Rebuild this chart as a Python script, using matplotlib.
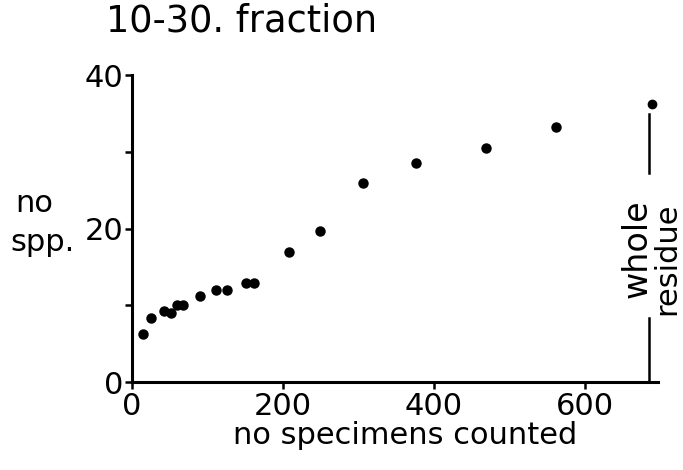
import matplotlib
matplotlib.use("Agg")
import matplotlib.pyplot as plt

# species count vs specimens counted, 10-30 fraction
counted = [15, 26, 42, 52, 60, 68, 90, 111, 126, 151, 162, 208, 249, 306, 376, 470, 562]
species = [6.3, 8.3, 9.3, 9.05, 10.1, 10.1, 11.2, 12.0, 12.0, 12.9, 12.9, 17.0, 19.7, 25.9, 28.5, 30.5, 33.3]

# whole residue total
whole_x = 689
whole_y = 36.2

xticks = [0, 200, 400, 600]
yticks = [0, 20, 40]
yminor = [10, 30]

plt.rcParams["font.family"] = "DejaVu Sans"

fig = plt.figure(figsize=(6.83, 4.70), dpi=100)
ax = fig.add_axes([0.193, 0.187, 0.770, 0.653])

ax.plot(counted, species, "o", color="black", ms=6.5, clip_on=False)
ax.plot([whole_x], [whole_y], "o", color="black", ms=6, clip_on=False)
ax.plot([whole_x - 3, whole_x - 3], [35.0, 27.3], color="black", lw=1.8)
ax.plot([whole_x - 3, whole_x - 3], [8.3, 0], color="black", lw=1.8)

ax.text(669, 17.4, "whole", rotation=90, ha="center", va="center", fontsize=24)
ax.text(709, 16.1, "residue", rotation=90, ha="center", va="center", fontsize=22,
        clip_on=False)

ax.set_xlim(0, 697)
ax.set_ylim(0, 40)
ax.spines["top"].set_visible(False)
ax.spines["right"].set_visible(False)
ax.spines["left"].set_linewidth(2.2)
ax.spines["bottom"].set_linewidth(2.2)

ax.set_xticks(xticks)
ax.set_yticks(yticks)
ax.set_yticks(yminor, minor=True)
ax.tick_params(axis="both", which="major", labelsize=22, width=1.8, length=5, pad=1)
ax.tick_params(axis="y", which="minor", width=1.8, length=5)
ax.tick_params(axis="x", which="major", pad=2)

ax.set_xlabel("no specimens counted", fontsize=22, labelpad=0, x=0.52)
fig.text(0.022, 0.568, "no", fontsize=22, ha="left", va="center")
fig.text(0.015, 0.485, "spp.", fontsize=22, ha="left", va="center")

fig.text(0.155, 0.955, "10-30. fraction", fontsize=26.5, ha="left", va="center")

fig.savefig("out.png", dpi=100)
